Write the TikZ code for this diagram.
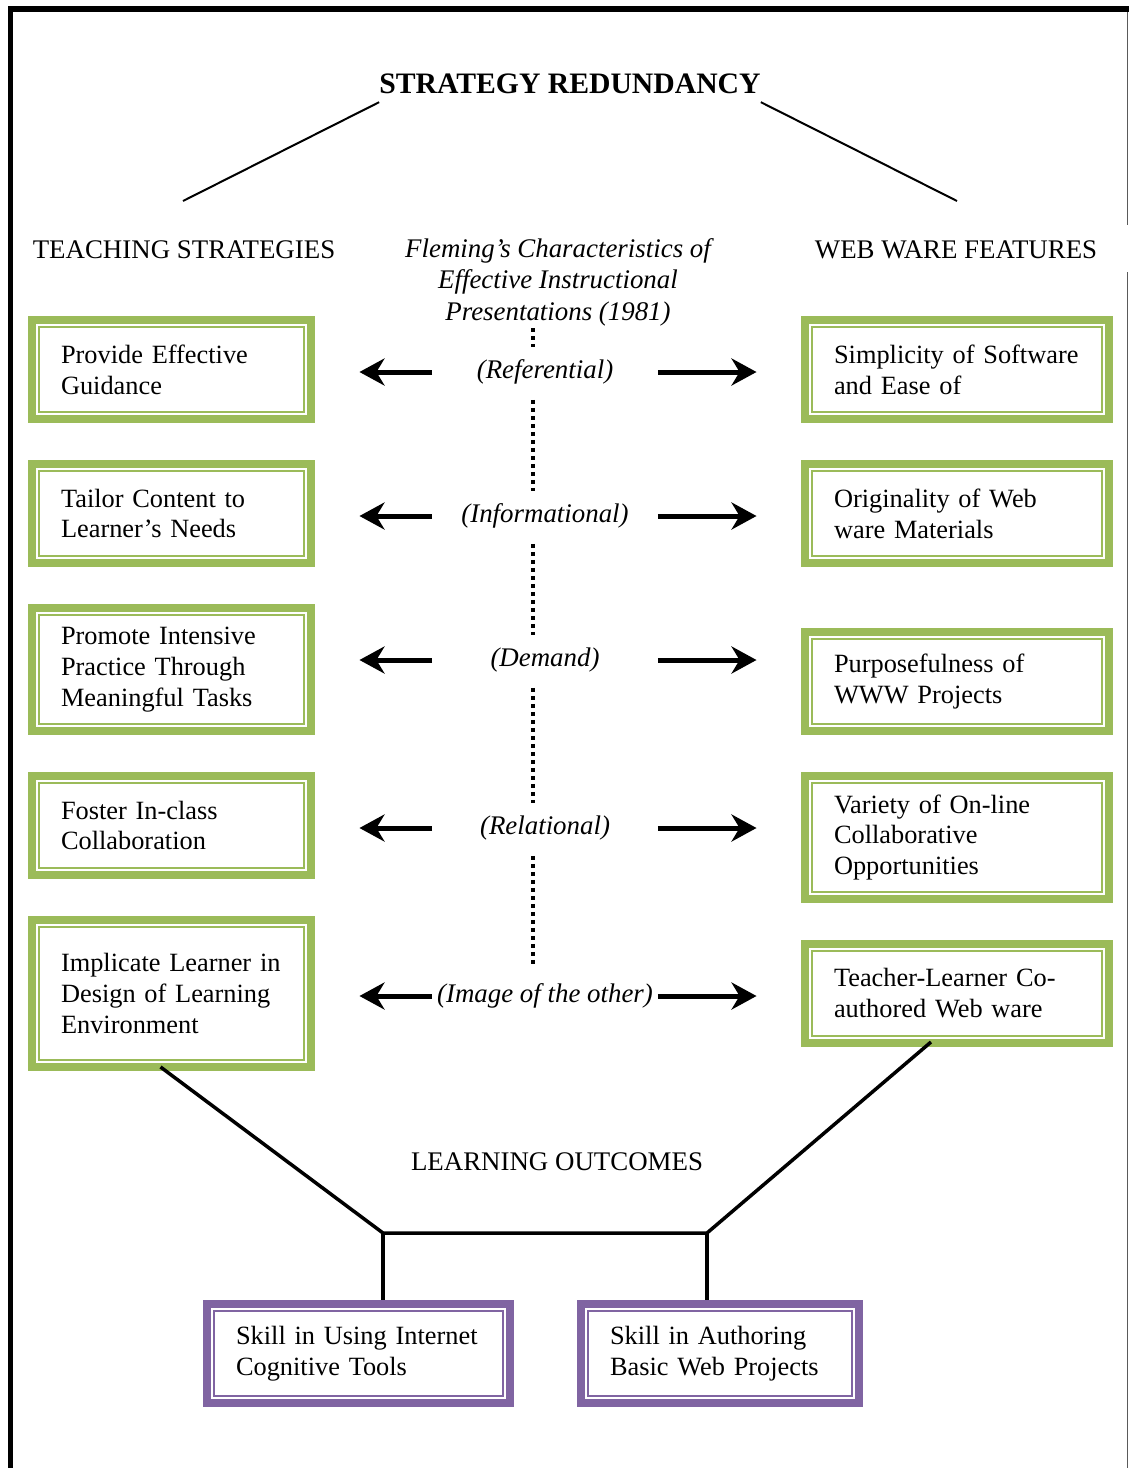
\documentclass[tikz,border=0pt]{standalone}
\usepackage{fontspec}
\setmainfont{Liberation Serif}
\usepackage{tikz}
\usetikzlibrary{calc,positioning,arrows.meta}
\definecolor{boxgreen}{HTML}{9BBB59}
\definecolor{boxpurple}{HTML}{8064A2}
\definecolor{framegray}{HTML}{5A5A5A}
\newcommand{\bodyfont}{\fontsize{15}{17.6}\selectfont}
\newcommand{\headfont}{\fontsize{15.3}{17.9}\selectfont}
\newcommand{\titlefont}{\fontsize{16.9}{19.5}\selectfont\bfseries}
\tikzstyle{greenbox}  = [draw=boxgreen, line width=0.16cm, inner xsep=0.58cm, inner ysep=0pt, align=left, font=\bodyfont,
                         path picture={\draw[boxgreen, line width=0.04cm] ([shift={(0.14cm,0.14cm)}]path picture bounding box.south west) rectangle ([shift={(-0.14cm,-0.14cm)}]path picture bounding box.north east);}]
\tikzstyle{purplebox} = [draw=boxpurple, line width=0.16cm, inner xsep=0.58cm, inner ysep=0pt, align=left, font=\bodyfont, minimum height=1.98cm,
                         path picture={\draw[boxpurple, line width=0.04cm] ([shift={(0.14cm,0.14cm)}]path picture bounding box.south west) rectangle ([shift={(-0.14cm,-0.14cm)}]path picture bounding box.north east);}]
\tikzstyle{stratbox}  = [greenbox, text width=4.42cm]
\tikzstyle{featbox}   = [greenbox, text width=4.92cm]
\tikzstyle{charlabel} = [font=\headfont\itshape, fill=white, inner xsep=1pt, inner ysep=0.26cm]
\tikzstyle{sidearrow} = [line width=0.1cm, -{Stealth[length=0.5cm, width=0.54cm, inset=0.16cm]}, shorten <=2.26cm, shorten >=0.89cm]
\tikzstyle{thinline}  = [line width=0.04cm]
\tikzstyle{joinline}  = [line width=0.07cm]
\tikzstyle{dotline}   = [line width=0.08cm, dash pattern=on 0.08cm off 0.08cm]

\begin{document}
\begin{tikzpicture}[x=0.02cm, y=-0.02cm]
    \useasboundingbox (0,0) rectangle (1129,1468);

    % frame
    \draw[line width=0.11cm] (10.5,1468) -- (10.5,9) -- (1129,9);
    \draw[framegray, line width=0.03cm] (1127.5,12) -- (1127.5,225);
    \draw[framegray, line width=0.03cm] (1127.5,272) -- (1127.5,1468);

    % headings
    \node[font=\titlefont] (title) at (570,84) {STRATEGY REDUNDANCY};
    \node[font=\headfont] (teach) at (184,250) {TEACHING STRATEGIES};
    \node[font=\headfont] (web) at (956,250) {WEB WARE FEATURES};
    \node[font=\headfont\itshape, align=center] (fleming) at (558,282) {Fleming’s Characteristics of\\Effective Instructional\\Presentations (1981)};
    \coordinate (tl) at (183,201);
    \coordinate (tr) at (957,201);
    \draw[thinline] ($(title.south west)+(6,2)$) -- (tl);
    \draw[thinline] ($(title.south east)+(-6,2)$) -- (tr);

    % teaching strategies
    \node[stratbox, minimum height=1.98cm] (ts1) at (171.5,369.5) {Provide Effective\\Guidance};
    \node[stratbox, minimum height=1.98cm] (ts2) at (171.5,513.5) {Tailor Content to\\Learner’s Needs};
    \node[stratbox, minimum height=2.46cm] (ts3) at (171.5,669.5) {Promote Intensive\\Practice Through\\Meaningful Tasks};
    \node[stratbox, minimum height=1.98cm] (ts4) at (171.5,825.5) {Foster In-class\\Collaboration};
    \node[stratbox, minimum height=2.94cm] (ts5) at (171.5,993.5) {Implicate Learner in\\Design of Learning\\Environment};

    % web ware features
    \node[featbox, minimum height=1.98cm] (wf1) at (957,369.5) {Simplicity of Software\\and Ease of};
    \node[featbox, minimum height=1.98cm] (wf2) at (957,513.5) {Originality of Web\\ware Materials};
    \node[featbox, minimum height=1.98cm] (wf3) at (957,681.5) {Purposefulness of\\WWW Projects};
    \node[featbox, minimum height=2.46cm] (wf4) at (957,837.5) {Variety of On-line\\Collaborative\\Opportunities};
    \node[featbox, minimum height=1.98cm] (wf5) at (957,993.5) {Teacher-Learner Co-\\authored Web ware};

    % Fleming's characteristics
    \coordinate (dtop) at (533,328);
    \coordinate (dbot) at (533,966);
    \draw[dotline] (dtop) -- (dbot);
    \node[charlabel] (ref) at (545,372) {(Referential)};
    \node[charlabel] (inf) at (545,516) {(Informational)};
    \node[charlabel] (dem) at (545,660) {(Demand)};
    \node[charlabel] (rel) at (545,828) {(Relational)};
    \node[charlabel, fill=none] (img) at (545,996) {(Image of the other)};

    \draw[sidearrow] (ref.center) -- (ref.center -| ts1.east);
    \draw[sidearrow] (ref.center) -- (ref.center -| wf1.west);
    \draw[sidearrow] (inf.center) -- (inf.center -| ts2.east);
    \draw[sidearrow] (inf.center) -- (inf.center -| wf2.west);
    \draw[sidearrow] (dem.center) -- (dem.center -| ts3.east);
    \draw[sidearrow] (dem.center) -- (dem.center -| wf3.west);
    \draw[sidearrow] (rel.center) -- (rel.center -| ts4.east);
    \draw[sidearrow] (rel.center) -- (rel.center -| wf4.west);
    \draw[sidearrow] (img.center) -- (img.center -| ts5.east);
    \draw[sidearrow] (img.center) -- (img.center -| wf5.west);

    % learning outcomes
    \node[font=\headfont] (outcomes) at (557,1162) {LEARNING OUTCOMES};
    \node[purplebox, text width=4.9cm] (lo1) at (358.5,1353.5) {Skill in Using Internet\\Cognitive Tools};
    \node[purplebox, text width=4.4cm] (lo2) at (720,1353.5) {Skill in Authoring\\Basic Web Projects};
    \coordinate (jl) at (383,1233);
    \coordinate (jr) at (707,1233);
    \draw[joinline] ($(ts5.south)+(-11,-4)$) -- (jl) -- (jr) -- ($(wf5.south)+(-26,-5)$);
    \draw[joinline] (jl) -- (jl |- lo1.north);
    \draw[joinline] (jr) -- (jr |- lo2.north);
\end{tikzpicture}
\end{document}
